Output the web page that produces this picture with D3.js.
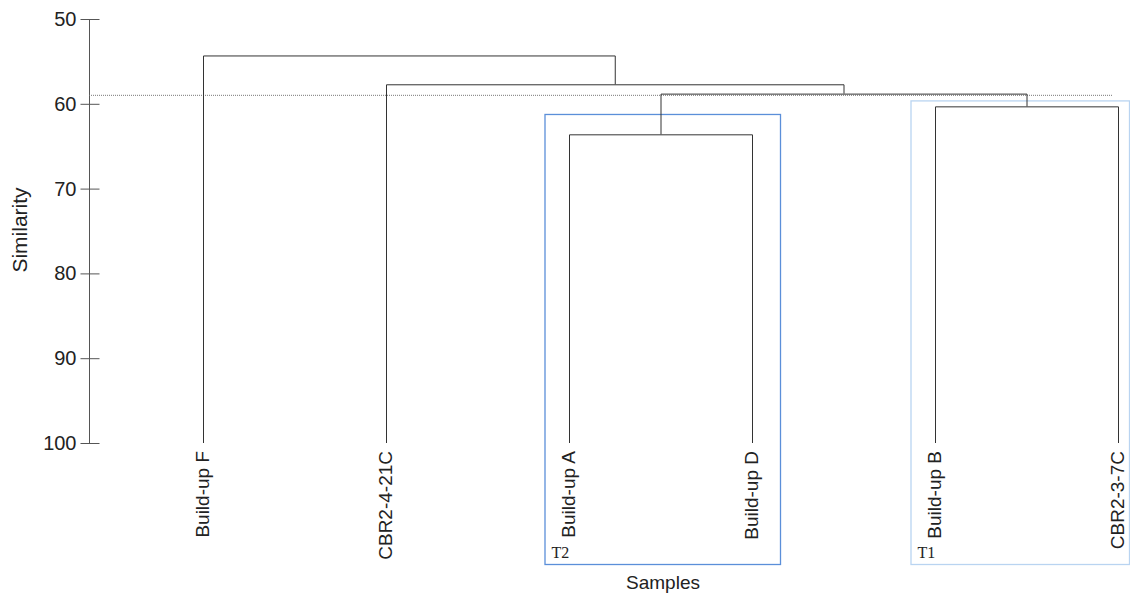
<!DOCTYPE html>
<html>
<head>
<meta charset="utf-8">
<script src="https://cdn.jsdelivr.net/npm/d3@7"></script>
<style>
  body { margin: 0; background: #fff; }
  svg { display: block; font-family: "Liberation Sans", Arial, sans-serif; }
</style>
</head>
<body>
<svg id="chart" width="1130" height="597"></svg>
<script>
// leaves in plotted order
var samples = ["Build-up F", "CBR2-4-21C", "Build-up A", "Build-up D", "Build-up B", "CBR2-3-7C"];
// merge steps: [left, right, name of new cluster]
var mergePairs = [
  ["Build-up B", "CBR2-3-7C", "T1"],
  ["Build-up A", "Build-up D", "T2"],
  ["T2", "T1", "c3"],
  ["CBR2-4-21C", "c3", "c4"],
  ["Build-up F", "c4", "c5"]
];
var mergeSimilarity = [60.3, 63.6, 58.8, 57.7, 54.3];
var cutLevel = 59.0;
var yTicks = [50, 60, 70, 80, 90, 100];
// group boxes
var groupNames = ["T2", "T1"];
var groupMembers = [["Build-up A", "Build-up D"], ["Build-up B", "CBR2-3-7C"]];
var groupTop = [61.2, 59.6];

var svg = d3.select("#chart");

var y = d3.scaleLinear().domain([50, 100]).range([19, 443]);
var x = d3.scalePoint().domain(samples).range([203, 1118]);

// axis
var axis = svg.append("g").attr("transform", "translate(89.5,0)");
axis.append("line").attr("y1", y(50)).attr("y2", y(100)).attr("stroke", "#555");
axis.selectAll("line.tick").data(yTicks).enter().append("line")
  .attr("class", "tick")
  .attr("x1", -9).attr("x2", 10)
  .attr("y1", function(d){ return y(d) + 0.5; })
  .attr("y2", function(d){ return y(d) + 0.5; })
  .attr("stroke", "#555");
axis.selectAll("text").data(yTicks).enter().append("text")
  .attr("x", -13)
  .attr("y", function(d){ return y(d); })
  .attr("dy", "0.35em")
  .attr("text-anchor", "end")
  .attr("font-size", 20)
  .attr("fill", "#222")
  .text(function(d){ return d; });

svg.append("text")
  .attr("transform", "translate(27,230) rotate(-90)")
  .attr("text-anchor", "middle")
  .attr("font-size", 21)
  .attr("fill", "#222")
  .text("Similarity");

svg.append("text")
  .attr("x", 663).attr("y", 589)
  .attr("text-anchor", "middle")
  .attr("font-size", 19)
  .attr("fill", "#222")
  .text("Samples");

// cut line
svg.append("line")
  .attr("x1", 89).attr("x2", 1112)
  .attr("y1", y(cutLevel)).attr("y2", y(cutLevel))
  .attr("stroke", "#777")
  .attr("stroke-dasharray", "1,1");

// group boxes
groupNames.forEach(function(g, i){
  var xs = groupMembers[i].map(function(m){ return x(m); });
  var left = d3.min(xs) - 24.5, right = d3.max(xs) + 28;
  if (i === 1) right = 1129;
  svg.append("rect")
    .attr("x", left + 0.5).attr("y", y(groupTop[i]) + 0.5)
    .attr("width", right - left).attr("height", 564 - y(groupTop[i]))
    .attr("fill", "none")
    .attr("stroke", i === 0 ? "#5b8fd9" : "#b9d4f1")
    .attr("stroke-width", 1.3);
  svg.append("text")
    .attr("x", left + 7).attr("y", 558)
    .attr("font-family", "Liberation Serif, serif")
    .attr("font-size", 16)
    .attr("fill", "#222")
    .text(g);
});

// dendrogram
var pos = {};
samples.forEach(function(s){ pos[s] = { x: x(s), h: 100 }; });
var tree = svg.append("g").attr("fill", "none").attr("stroke", "#333").attr("stroke-width", 1);
mergePairs.forEach(function(m, i){
  var a = pos[m[0]], b = pos[m[1]], h = mergeSimilarity[i];
  tree.append("path")
    .attr("d", "M" + (a.x + 0.5) + "," + y(a.h) + "V" + (y(h) + 0.5) + "H" + (b.x + 0.5) + "V" + y(b.h));
  pos[m[2]] = { x: (a.x + b.x) / 2, h: h };
});

// leaf labels
svg.selectAll("text.leaf").data(samples).enter().append("text")
  .attr("class", "leaf")
  .attr("transform", function(d){ return "translate(" + (x(d) + 6) + ",451) rotate(-90)"; })
  .attr("text-anchor", "end")
  .attr("font-size", 19)
  .attr("fill", "#222")
  .text(function(d){ return d; });
</script>
</body>
</html>
